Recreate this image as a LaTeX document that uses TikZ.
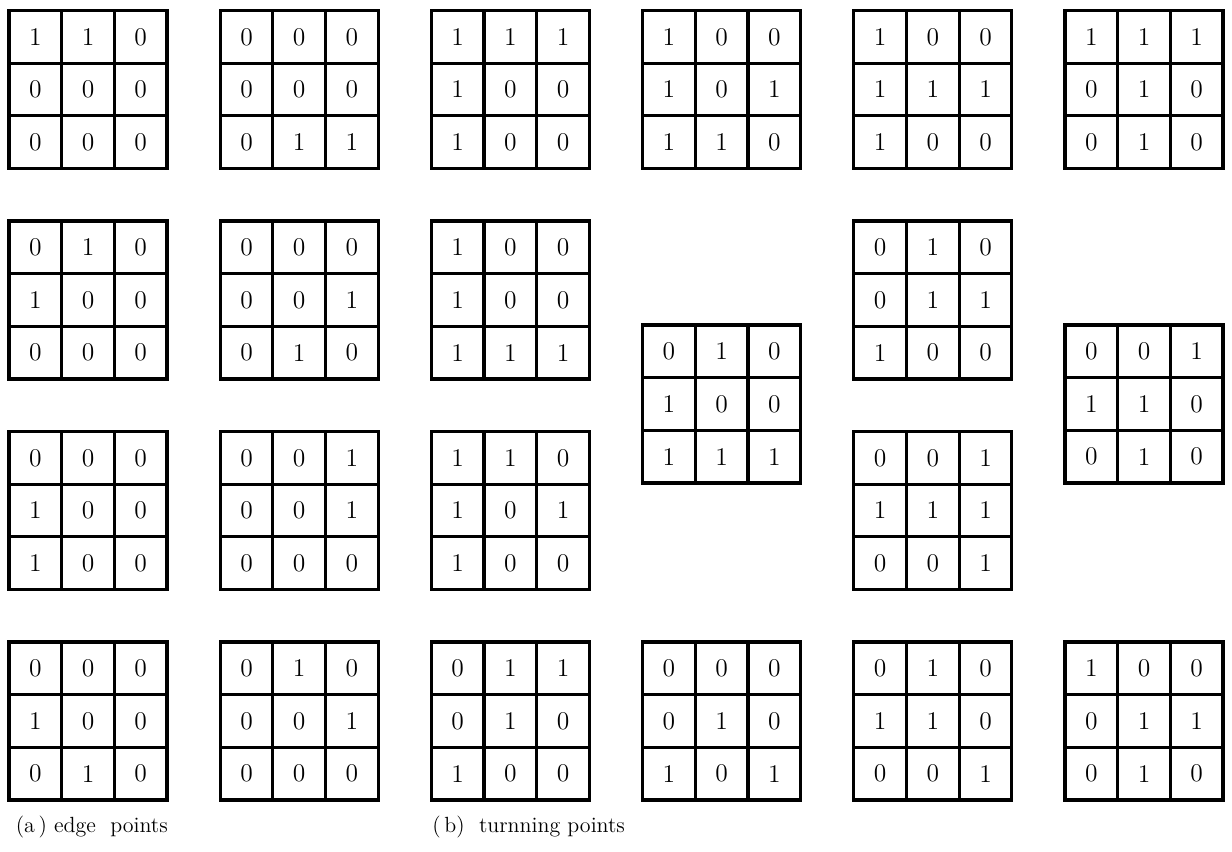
\documentclass[tikz,border=0pt]{standalone}
\usetikzlibrary{matrix, positioning}

\begin{document}
\begin{tikzpicture}[node distance=4.21cm and 4.224cm, on grid,
    pat/.style={matrix of nodes, row sep=-1.8pt, column sep=-1.8pt,
      nodes={draw, line width=1.8pt, minimum size=1.054cm, inner sep=0pt, outer sep=0pt,
        anchor=center, font=\fontsize{14.5}{17}\selectfont}},
    tag/.style={anchor=west, inner sep=0pt, font=\fontsize{12.5}{15}\selectfont}]
    \useasboundingbox (-1.76,1.79) rectangle (22.88,-15.25);
    \matrix[pat] (e1) at (0,0) {1 & 1 & 0\\ 0 & 0 & 0\\ 0 & 0 & 0\\};
    \matrix[pat] (e2) [right=of e1] {0 & 0 & 0\\ 0 & 0 & 0\\ 0 & 1 & 1\\};
    \matrix[pat] (t1) [right=of e2] {1 & 1 & 1\\ 1 & 0 & 0\\ 1 & 0 & 0\\};
    \matrix[pat] (t2) [right=of t1] {1 & 0 & 0\\ 1 & 0 & 1\\ 1 & 1 & 0\\};
    \matrix[pat] (t3) [right=of t2] {1 & 0 & 0\\ 1 & 1 & 1\\ 1 & 0 & 0\\};
    \matrix[pat] (t4) [right=of t3] {1 & 1 & 1\\ 0 & 1 & 0\\ 0 & 1 & 0\\};

    \matrix[pat] (e3) [below=of e1] {0 & 1 & 0\\ 1 & 0 & 0\\ 0 & 0 & 0\\};
    \matrix[pat] (e4) [below=of e2] {0 & 0 & 0\\ 0 & 0 & 1\\ 0 & 1 & 0\\};
    \matrix[pat] (t5) [below=of t1] {1 & 0 & 0\\ 1 & 0 & 0\\ 1 & 1 & 1\\};
    \matrix[pat] (t6) [below=of t3] {0 & 1 & 0\\ 0 & 1 & 1\\ 1 & 0 & 0\\};

    \matrix[pat] (t9) [below=6.29cm of t2] {0 & 1 & 0\\ 1 & 0 & 0\\ 1 & 1 & 1\\};
    \matrix[pat] (t10) [below=6.29cm of t4] {0 & 0 & 1\\ 1 & 1 & 0\\ 0 & 1 & 0\\};

    \matrix[pat] (e5) [below=of e3] {0 & 0 & 0\\ 1 & 0 & 0\\ 1 & 0 & 0\\};
    \matrix[pat] (e6) [below=of e4] {0 & 0 & 1\\ 0 & 0 & 1\\ 0 & 0 & 0\\};
    \matrix[pat] (t7) [below=of t5] {1 & 1 & 0\\ 1 & 0 & 1\\ 1 & 0 & 0\\};
    \matrix[pat] (t8) [below=of t6] {0 & 0 & 1\\ 1 & 1 & 1\\ 0 & 0 & 1\\};

    \matrix[pat] (e7) [below=of e5] {0 & 0 & 0\\ 1 & 0 & 0\\ 0 & 1 & 0\\};
    \matrix[pat] (e8) [below=of e6] {0 & 1 & 0\\ 0 & 0 & 1\\ 0 & 0 & 0\\};
    \matrix[pat] (t11) [below=of t7] {0 & 1 & 1\\ 0 & 1 & 0\\ 1 & 0 & 0\\};
    \matrix[pat] (t12) [right=of t11] {0 & 0 & 0\\ 0 & 1 & 0\\ 1 & 0 & 1\\};
    \matrix[pat] (t13) [right=of t12] {0 & 1 & 0\\ 1 & 1 & 0\\ 0 & 0 & 1\\};
    \matrix[pat] (t14) [right=of t13] {1 & 0 & 0\\ 0 & 1 & 1\\ 0 & 1 & 0\\};

    \node[tag] (la) at (-1.45,-14.75) {(a\,) edge~ points};
    \node[tag] (lb) at (6.88,-14.75) {(\,b)~ turnning points};
\end{tikzpicture}
\end{document}
